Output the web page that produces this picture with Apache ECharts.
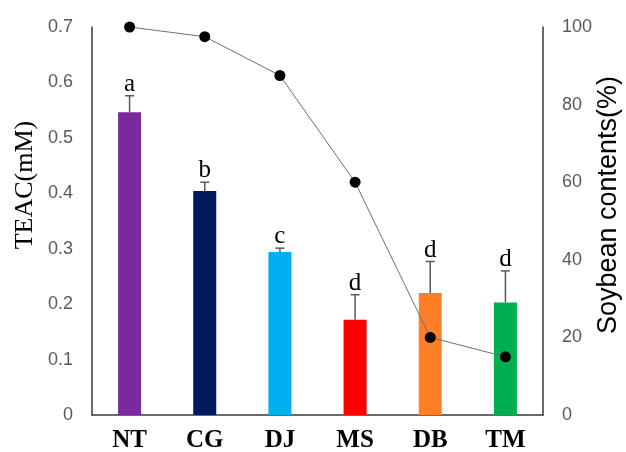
<!DOCTYPE html>
<html>
<head>
<meta charset="utf-8">
<script src="https://cdn.jsdelivr.net/npm/echarts@6/dist/echarts.min.js"></script>
<style>html,body{margin:0;padding:0;background:#fff}#c{width:626px;height:452px}</style>
</head>
<body>
<div id="c"></div>
<script>
const categories = ['NT', 'CG', 'DJ', 'MS', 'DB', 'TM'];
const teac = [0.546, 0.404, 0.294, 0.172, 0.220, 0.203];
const teacErr = [0.030, 0.016, 0.007, 0.045, 0.057, 0.057];
const letters = ['a', 'b', 'c', 'd', 'd', 'd'];
const soybean = [100, 97.5, 87.5, 60, 20, 15];
const barColors = ['#7B2A9E', '#001A5E', '#00B0F0', '#FF0000', '#FF7F27', '#00B050'];

const chart = echarts.init(document.getElementById('c'), null, {renderer: 'canvas'});
const axisLineStyle = {color: '#3a3a3a', width: 1.5};
const errData = categories.map((c, i) => [i, teac[i], teacErr[i], letters[i]]);

chart.setOption({
  animation: false,
  grid: {left: 92, right: 83, top: 27, bottom: 37, containLabel: false, outerBoundsMode: 'none'},
  xAxis: {
    type: 'category',
    data: categories,
    axisLine: {lineStyle: axisLineStyle},
    axisTick: {show: false},
    axisLabel: {color: '#000', fontFamily: 'Liberation Serif', fontWeight: 'bold', fontSize: 25, margin: 13}
  },
  yAxis: [{
    type: 'value', min: 0, max: 0.7, interval: 0.1,
    name: 'TEAC(mM)', nameLocation: 'middle', nameGap: 54, nameMoveOverlap: false,
    nameTextStyle: {color: '#000', fontFamily: 'Liberation Serif', fontSize: 26, padding: [0, 0, 0, 72]},
    axisLine: {show: true, lineStyle: axisLineStyle},
    axisTick: {show: false},
    splitLine: {show: false},
    axisLabel: {color: '#595959', fontFamily: 'Liberation Sans', fontSize: 18, margin: 19}
  }, {
    type: 'value', min: 0, max: 100, interval: 20,
    name: 'Soybean contents(%)', nameLocation: 'middle', nameGap: 52, nameMoveOverlap: false,
    nameTextStyle: {color: '#000', fontFamily: 'Liberation Sans', fontSize: 27, padding: [0, 0, 0, 32]},
    axisLine: {show: true, lineStyle: axisLineStyle},
    axisTick: {show: false},
    splitLine: {show: false},
    axisLabel: {color: '#595959', fontFamily: 'Liberation Sans', fontSize: 18, margin: 19}
  }],
  series: [{
    type: 'bar',
    data: teac.map((v, i) => ({value: v, itemStyle: {color: barColors[i]}})),
    barWidth: 23,
    z: 1
  }, {
    type: 'custom',
    data: errData,
    z: 3,
    renderItem: function (params, api) {
      const i = api.value(0);
      const v = api.value(1);
      const e = api.value(2);
      const p0 = api.coord([i, v]);
      const p1 = api.coord([i, v + e]);
      const st = {stroke: '#595959', lineWidth: 1.5};
      return {
        type: 'group',
        children: [
          {type: 'line', shape: {x1: p0[0], y1: p0[1], x2: p1[0], y2: p1[1]}, style: st},
          {type: 'line', shape: {x1: p1[0] - 4.5, y1: p1[1], x2: p1[0] + 4.5, y2: p1[1]}, style: st},
          {type: 'text', x: p1[0], y: p1[1] + 1,
           style: {text: letters[params.dataIndex], fill: '#000', font: '25px "Liberation Serif"', align: 'center', verticalAlign: 'bottom'}}
        ]
      };
    }
  }, {
    type: 'line',
    yAxisIndex: 1,
    data: soybean,
    symbol: 'circle',
    symbolSize: 11,
    itemStyle: {color: '#000'},
    lineStyle: {color: '#707070', width: 1},
    z: 5
  }]
});
</script>
</body>
</html>
